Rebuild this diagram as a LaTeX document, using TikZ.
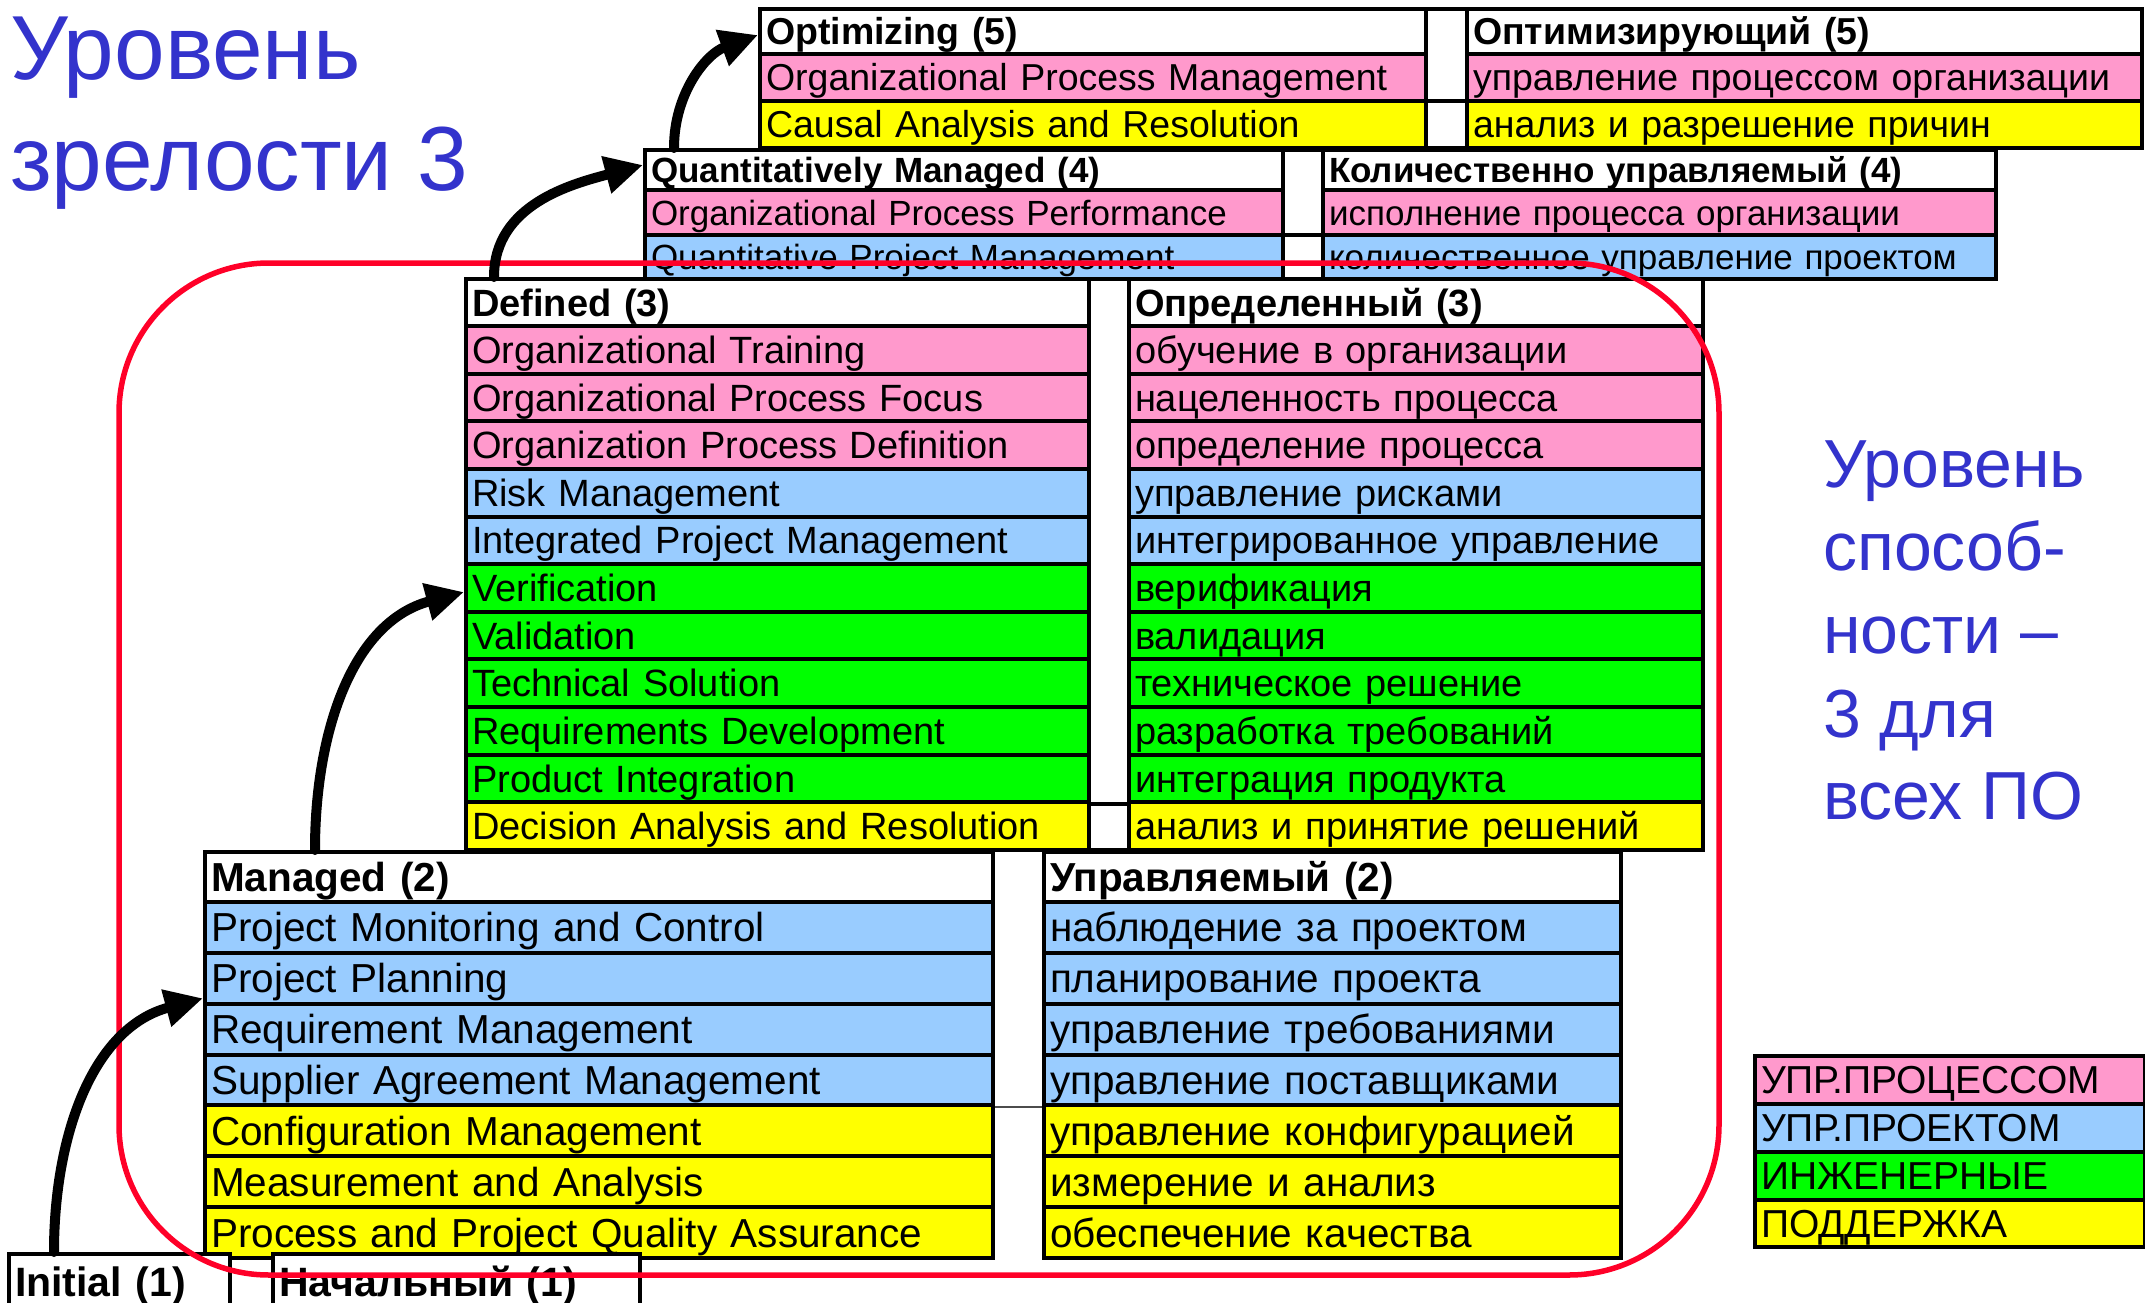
\documentclass[tikz,border=0pt]{standalone}
\usepackage{fontspec}
\setmainfont{Liberation Sans}
\usetikzlibrary{arrows.meta}

\definecolor{pinkc}{RGB}{255,153,204}
\definecolor{bluec}{RGB}{153,204,255}
\definecolor{greenc}{RGB}{0,255,0}
\definecolor{yellowc}{RGB}{255,255,0}
\definecolor{textblue}{RGB}{51,51,204}
\definecolor{redc}{RGB}{255,0,40}

\tikzset{
  cell/.style={draw=black, line width=4pt, anchor=north west, inner xsep=6pt,
               inner ysep=0pt, text depth=0pt, align=left},
  gapcell/.style={draw=black, line width=4pt, fill=white, anchor=north west, inner sep=0pt},
  stair/.style={line width=10pt, line cap=round, -{Triangle[length=38pt,width=36pt]}},
  frame/.style={draw=redc, line width=5.5pt, rounded corners=150pt, inner sep=0pt},
  bluetext/.style={text=textblue, anchor=base west, inner sep=0pt},
}

% one table cell: name, x left, x right, y top, y bottom, fill, font size, text
\newcommand{\cellnode}[8]{%
  \pgfmathsetmacro{\cellW}{#3-#2-12}%
  \pgfmathsetmacro{\cellH}{#5-#4}%
  \pgfmathsetmacro{\capH}{0.716*#7}%
  \node[cell, fill=#6, minimum height=\cellH pt, text width=\cellW pt, text height=\capH pt,
        font=\fontsize{#7pt}{#7pt}\selectfont] (#1) at (#2,#4) {#8};}

% empty spacer cell between the English and Russian columns
\newcommand{\gapnode}[5]{%
  \pgfmathsetmacro{\cellW}{#3-#2}%
  \pgfmathsetmacro{\cellH}{#5-#4}%
  \node[gapcell, minimum width=\cellW pt, minimum height=\cellH pt] (#1) at (#2,#4) {};}

\begin{document}
\begin{tikzpicture}[x=1pt,y=-1pt]
\useasboundingbox (0,0) rectangle (2145,1303);
\clip (0,0) rectangle (2145,1303);

% ---------- level 5 ----------
\cellnode{l5eh}{758}{1424}{7}{52}{white}{37.5}{\bfseries Optimizing (5)}
\cellnode{l5e1}{758}{1424}{52}{99}{pinkc}{37.5}{Organizational Process Management}
\cellnode{l5e2}{758}{1424}{99}{146}{yellowc}{37.5}{Causal Analysis and Resolution}
\gapnode{l5g1}{1424}{1465}{7}{99}
\gapnode{l5g2}{1424}{1465}{99}{146}
\cellnode{l5rh}{1465}{2140}{7}{52}{white}{37.5}{\bfseries Оптимизирующий (5)}
\cellnode{l5r1}{1465}{2140}{52}{99}{pinkc}{37.5}{управление процессом организации}
\cellnode{l5r2}{1465}{2140}{99}{146}{yellowc}{37.5}{анализ и разрешение причин}

% ---------- level 4 ----------
\cellnode{l4eh}{643}{1281}{148}{188}{white}{35}{\bfseries Quantitatively Managed (4)}
\cellnode{l4e1}{643}{1281}{188}{233}{pinkc}{35}{Organizational Process Performance}
\cellnode{l4e2}{643}{1281}{233}{277}{bluec}{35}{Quantitative Project Management}
\gapnode{l4g1}{1281}{1321}{148}{233}
\gapnode{l4g2}{1281}{1321}{233}{277}
\cellnode{l4rh}{1321}{1994}{148}{188}{white}{35}{\bfseries Количественно управляемый (4)}
\cellnode{l4r1}{1321}{1994}{188}{233}{pinkc}{35}{исполнение процесса организации}
\cellnode{l4r2}{1321}{1994}{233}{277}{bluec}{35}{количественное управление проектом}

% ---------- level 3 ----------
\cellnode{l3eh}{464}{1087}{277}{324}{white}{38}{\bfseries Defined (3)}
\cellnode{l3rh}{1127}{1701}{277}{324}{white}{38}{\bfseries Определенный (3)}
\foreach \i/\en/\ru/\col in {
  1/Organizational Training/обучение в организации/pinkc,
  2/Organizational Process Focus/нацеленность процесса/pinkc,
  3/Organization Process Definition/определение процесса/pinkc,
  4/Risk Management/управление рисками/bluec,
  5/Integrated Project Management/интегрированное управление/bluec,
  6/Verification/верификация/greenc,
  7/Validation/валидация/greenc,
  8/Technical Solution/техническое решение/greenc,
  9/Requirements Development/разработка требований/greenc,
  10/Product Integration/интеграция продукта/greenc,
  11/Decision Analysis and Resolution/анализ и принятие решений/yellowc}{
  \pgfmathsetmacro{\yt}{324+(\i-1)*47.64}
  \pgfmathsetmacro{\yb}{324+\i*47.64}
  \cellnode{l3e\i}{464}{1087}{\yt}{\yb}{\col}{38}{\en}
  \cellnode{l3r\i}{1127}{1701}{\yt}{\yb}{\col}{38}{\ru}
}
\gapnode{l3g1}{1087}{1127}{277}{801.6}
\gapnode{l3g2}{1087}{1127}{801.6}{848}

% ---------- level 2 ----------
\cellnode{l2eh}{203}{991}{850}{900}{white}{40.5}{\bfseries Managed (2)}
\cellnode{l2rh}{1042}{1619}{850}{900}{white}{40.5}{\bfseries Управляемый (2)}
\foreach \i/\en/\ru/\col in {
  1/Project Monitoring and Control/наблюдение за проектом/bluec,
  2/Project Planning/планирование проекта/bluec,
  3/Requirement Management/управление требованиями/bluec,
  4/Supplier Agreement Management/управление поставщиками/bluec,
  5/Configuration Management/управление конфигурацией/yellowc,
  6/Measurement and Analysis/измерение и анализ/yellowc,
  7/Process and Project Quality Assurance/обеспечение качества/yellowc}{
  \pgfmathsetmacro{\yt}{900+(\i-1)*50.857}
  \pgfmathsetmacro{\yb}{900+\i*50.857}
  \cellnode{l2e\i}{203}{991}{\yt}{\yb}{\col}{40.5}{\en}
  \cellnode{l2r\i}{1042}{1619}{\yt}{\yb}{\col}{40.5}{\ru}
}
\draw[line width=2pt, black!70] (l2e4.south east) -- (l2r4.south west);

% ---------- level 1 ----------
\cellnode{l1eh}{7}{228}{1252}{1308}{white}{41}{\bfseries Initial (1)}
\cellnode{l1rh}{271}{638}{1252}{1308}{white}{41}{\bfseries Начальный (1)}

% ---------- capability frame ----------
\node[frame, minimum width=1600pt, minimum height=1012pt] (frame) at (919,769) {};

% ---------- steps between levels (angles are canvas angles) ----------
\draw[stair] ([xshift=47pt]l1eh.north west) to[out=90,in=195] ([yshift=-20pt]l2e2.west);
\draw[stair] ([xshift=112pt]l2eh.north west) to[out=90,in=195] ([yshift=-4pt]l3e6.west);
\draw[stair] ([xshift=30pt]l3eh.north west) to[out=90,in=195] ([yshift=5pt]l4eh.west);
\draw[stair] ([xshift=31pt]l4eh.north west) to[out=90,in=200] ([yshift=-3.5pt]l5eh.west);

% ---------- captions ----------
\node[bluetext, font=\fontsize{91pt}{91pt}\selectfont] (mat1) at (10,80) {Уровень};
\node[bluetext, font=\fontsize{91pt}{91pt}\selectfont] (mat2) at (10,190) {зрелости 3};

\node[bluetext, font=\fontsize{68pt}{68pt}\selectfont] (cap1) at (1823,487) {Уровень};
\node[bluetext, font=\fontsize{68pt}{68pt}\selectfont] (cap2) at (1823,570) {способ-};
\node[bluetext, font=\fontsize{68pt}{68pt}\selectfont] (cap3) at (1823,653) {ности –};
\node[bluetext, font=\fontsize{68pt}{68pt}\selectfont] (cap4) at (1823,737) {3 для};
\node[bluetext, font=\fontsize{68pt}{68pt}\selectfont] (cap5) at (1823,819) {всех ПО};

% ---------- legend ----------
\cellnode{lg1}{1753}{2143}{1054}{1102}{pinkc}{39}{УПР.ПРОЦЕССОМ}
\cellnode{lg2}{1753}{2143}{1102}{1150}{bluec}{39}{УПР.ПРОЕКТОМ}
\cellnode{lg3}{1753}{2143}{1150}{1198}{greenc}{39}{ИНЖЕНЕРНЫЕ}
\cellnode{lg4}{1753}{2143}{1198}{1245}{yellowc}{39}{ПОДДЕРЖКА}
\end{tikzpicture}
\end{document}
